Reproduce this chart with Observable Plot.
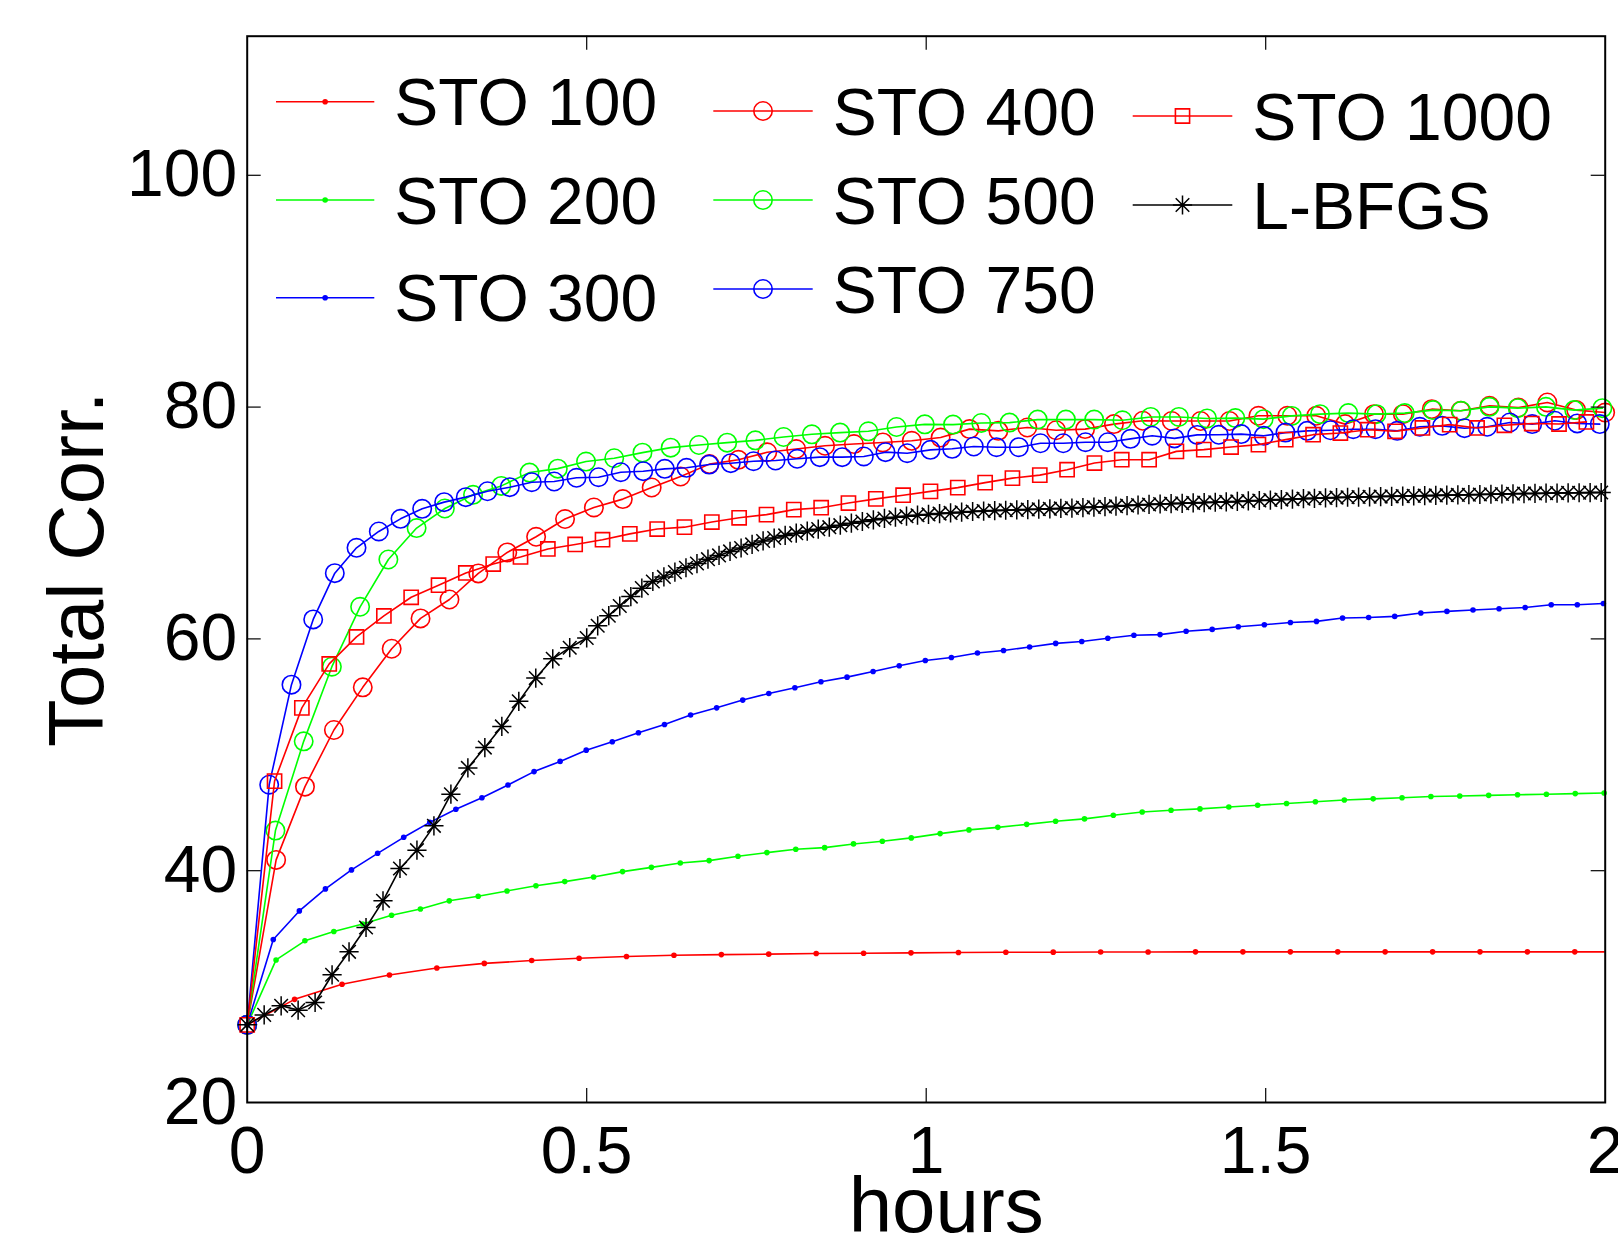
<!DOCTYPE html>
<html>
<head>
<meta charset="utf-8">
<script src="https://cdn.jsdelivr.net/npm/d3@7"></script>
<script src="https://cdn.jsdelivr.net/npm/@observablehq/plot@0.6"></script>
<style>
html, body { margin: 0; padding: 0; background: #ffffff; overflow: hidden; }
#chart { width: 1618px; height: 1242px; }
</style>
</head>
<body>
<div id="chart"></div>
<script>
// ---------------- data ----------------
const xTicks = [0, 0.5, 1, 1.5, 2];
const yTicks = [20, 40, 60, 80, 100];
const xLabel = "hours";
const yLabel = "Total Corr.";

const seriesNames = ["STO 100", "STO 200", "STO 300", "STO 400", "STO 500", "STO 750", "STO 1000", "L-BFGS"];
const seriesColors = ["#ff0000", "#00ff00", "#0000ff", "#ff0000", "#00ff00", "#0000ff", "#ff0000", "#000000"];
const seriesMarkers = ["dot", "dot", "dot", "circle", "circle", "circle", "square", "star"];

const hoursSTO100 = [0, 0.0698, 0.1397, 0.2095, 0.2793, 0.3492, 0.4190, 0.4888, 0.5586, 0.6285, 0.6983, 0.7681, 0.8380, 0.9078, 0.9776, 1.0475, 1.1173, 1.1871, 1.2569, 1.3268, 1.3966, 1.4664, 1.5363, 1.6061, 1.6759, 1.7458, 1.8156, 1.8854, 1.9552, 2.0251];
const corrSTO100 = [26.7, 28.9, 30.2, 31.0, 31.6, 32.0, 32.25, 32.45, 32.6, 32.7, 32.76, 32.8, 32.85, 32.88, 32.91, 32.94, 32.96, 32.97, 32.98, 32.99, 33.0, 33.0, 33.0, 33.0, 33.0, 33.0, 33.0, 33.0, 33.0, 33.0];

const hoursSTO200 = [0, 0.0425, 0.0850, 0.1276, 0.1701, 0.2126, 0.2551, 0.2976, 0.3402, 0.3827, 0.4252, 0.4677, 0.5102, 0.5528, 0.5953, 0.6378, 0.6803, 0.7228, 0.7654, 0.8079, 0.8504, 0.8929, 0.9354, 0.9780, 1.0205, 1.0630, 1.1055, 1.1480, 1.1906, 1.2331, 1.2756, 1.3181, 1.3606, 1.4032, 1.4457, 1.4882, 1.5307, 1.5732, 1.6158, 1.6583, 1.7008, 1.7433, 1.7858, 1.8284, 1.8709, 1.9134, 1.9559, 1.9984];
const corrSTO200 = [26.7, 32.3, 33.95, 34.75, 35.4, 36.15, 36.7, 37.4, 37.8, 38.25, 38.7, 39.06, 39.46, 39.92, 40.29, 40.67, 40.87, 41.24, 41.56, 41.85, 41.99, 42.31, 42.54, 42.83, 43.2, 43.52, 43.74, 44.0, 44.26, 44.47, 44.78, 45.07, 45.21, 45.33, 45.5, 45.65, 45.8, 45.95, 46.1, 46.2, 46.3, 46.4, 46.45, 46.5, 46.55, 46.6, 46.65, 46.7];

const hoursSTO300 = [0, 0.0384, 0.0768, 0.1152, 0.1536, 0.1921, 0.2305, 0.2689, 0.3073, 0.3457, 0.3841, 0.4225, 0.4609, 0.4993, 0.5377, 0.5762, 0.6146, 0.6530, 0.6914, 0.7298, 0.7682, 0.8066, 0.8450, 0.8834, 0.9218, 0.9603, 0.9987, 1.0371, 1.0755, 1.1139, 1.1523, 1.1907, 1.2291, 1.2675, 1.3059, 1.3444, 1.3828, 1.4212, 1.4596, 1.4980, 1.5364, 1.5748, 1.6132, 1.6516, 1.6900, 1.7285, 1.7669, 1.8053, 1.8437, 1.8821, 1.9205, 1.9589, 1.9973];
const corrSTO300 = [26.7, 34.06, 36.53, 38.43, 40.07, 41.5, 42.88, 44.17, 45.3, 46.3, 47.4, 48.55, 49.43, 50.4, 51.13, 51.9, 52.62, 53.43, 54.05, 54.72, 55.29, 55.78, 56.3, 56.7, 57.19, 57.68, 58.14, 58.4, 58.78, 59.0, 59.3, 59.61, 59.78, 60.05, 60.31, 60.37, 60.66, 60.82, 61.05, 61.22, 61.42, 61.51, 61.8, 61.85, 61.94, 62.23, 62.37, 62.49, 62.6, 62.71, 62.95, 62.95, 63.06];

const hoursSTO400 = [0, 0.0426, 0.0851, 0.1277, 0.1702, 0.2128, 0.2553, 0.2979, 0.3404, 0.3830, 0.4255, 0.4681, 0.5106, 0.5532, 0.5957, 0.6383, 0.6808, 0.7234, 0.7659, 0.8085, 0.8510, 0.8936, 0.9361, 0.9787, 1.0212, 1.0638, 1.1063, 1.1489, 1.1914, 1.2340, 1.2765, 1.3191, 1.3616, 1.4042, 1.4467, 1.4893, 1.5318, 1.5744, 1.6169, 1.6595, 1.7020, 1.7446, 1.7871, 1.8297, 1.8722, 1.9148, 1.9573, 1.9999];
const corrSTO400 = [26.7, 40.93, 47.25, 52.14, 55.82, 59.15, 61.77, 63.4, 65.65, 67.46, 68.81, 70.34, 71.34, 72.06, 73.06, 74.01, 75.08, 75.45, 76.1, 76.38, 76.66, 76.81, 76.95, 77.09, 77.37, 78.1, 77.95, 78.24, 78.0, 78.1, 78.53, 78.82, 78.8, 78.8, 78.8, 79.25, 79.25, 79.25, 78.53, 79.39, 79.39, 79.82, 79.68, 80.11, 79.96, 80.4, 79.74, 79.53];

const hoursSTO500 = [0, 0.0416, 0.0832, 0.1247, 0.1663, 0.2079, 0.2495, 0.2911, 0.3326, 0.3742, 0.4158, 0.4574, 0.4990, 0.5405, 0.5821, 0.6237, 0.6653, 0.7069, 0.7484, 0.7900, 0.8316, 0.8732, 0.9148, 0.9563, 0.9979, 1.0395, 1.0811, 1.1227, 1.1642, 1.2058, 1.2474, 1.2890, 1.3306, 1.3721, 1.4137, 1.4553, 1.4969, 1.5385, 1.5800, 1.6216, 1.6632, 1.7048, 1.7464, 1.7879, 1.8295, 1.8711, 1.9127, 1.9543, 1.9958];
const corrSTO500 = [26.7, 43.46, 51.16, 57.6, 62.77, 66.85, 69.56, 71.25, 72.43, 73.2, 74.35, 74.69, 75.3, 75.59, 76.07, 76.5, 76.73, 76.93, 77.13, 77.42, 77.65, 77.8, 77.91, 78.28, 78.51, 78.49, 78.63, 78.66, 78.92, 78.92, 78.92, 78.86, 79.15, 79.15, 79.02, 79.05, 78.96, 79.24, 79.39, 79.48, 79.39, 79.48, 79.74, 79.68, 80.02, 79.91, 80.02, 79.74, 79.91];

const hoursSTO750 = [0, 0.0324, 0.0652, 0.0972, 0.1290, 0.1610, 0.1938, 0.2258, 0.2577, 0.2901, 0.3219, 0.3539, 0.3867, 0.4191, 0.4521, 0.4850, 0.5174, 0.5502, 0.5832, 0.6150, 0.6470, 0.6804, 0.7122, 0.7457, 0.7781, 0.8100, 0.8433, 0.8763, 0.9081, 0.9401, 0.9720, 1.0063, 1.0383, 1.0701, 1.1035, 1.1364, 1.1683, 1.2018, 1.2346, 1.2675, 1.3009, 1.3328, 1.3657, 1.3991, 1.4309, 1.4639, 1.4972, 1.5291, 1.5611, 1.5954, 1.6289, 1.6617, 1.6937, 1.7270, 1.7599, 1.7928, 1.8262, 1.8595, 1.8925, 1.9258, 1.9588, 1.9920];
const corrSTO750 = [26.7, 47.42, 56.05, 61.68, 65.67, 67.86, 69.27, 70.36, 71.22, 71.8, 72.23, 72.74, 73.09, 73.52, 73.58, 73.9, 73.95, 74.38, 74.47, 74.67, 74.76, 75.04, 75.16, 75.33, 75.39, 75.54, 75.68, 75.68, 75.74, 76.11, 76.02, 76.31, 76.4, 76.6, 76.54, 76.54, 76.88, 76.88, 76.97, 76.97, 77.26, 77.53, 77.3, 77.6, 77.61, 77.67, 77.52, 77.8, 77.95, 78.0, 78.09, 78.09, 77.95, 78.3, 78.38, 78.18, 78.3, 78.67, 78.53, 78.82, 78.59, 78.53];

const hoursSTO1000 = [0, 0.0403, 0.0805, 0.1208, 0.1610, 0.2013, 0.2415, 0.2818, 0.3220, 0.3623, 0.4025, 0.4428, 0.4830, 0.5233, 0.5635, 0.6038, 0.6440, 0.6843, 0.7245, 0.7648, 0.8050, 0.8453, 0.8855, 0.9258, 0.9660, 1.0063, 1.0465, 1.0868, 1.1270, 1.1673, 1.2075, 1.2478, 1.2880, 1.3283, 1.3685, 1.4088, 1.4490, 1.4893, 1.5295, 1.5698, 1.6100, 1.6503, 1.6905, 1.7308, 1.7710, 1.8113, 1.8515, 1.8918, 1.9320, 1.9723];
const corrSTO1000 = [26.7, 47.73, 54.05, 57.84, 60.17, 61.98, 63.59, 64.63, 65.69, 66.46, 67.07, 67.76, 68.15, 68.56, 69.06, 69.48, 69.64, 70.08, 70.45, 70.72, 71.15, 71.32, 71.72, 72.08, 72.4, 72.73, 73.05, 73.48, 73.87, 74.13, 74.6, 75.17, 75.46, 75.46, 76.18, 76.33, 76.55, 76.76, 77.19, 77.62, 77.76, 78.05, 77.91, 78.2, 78.49, 78.2, 78.43, 78.58, 78.54, 78.72];

const hoursLBFGS = [0, 0.025, 0.05, 0.075, 0.1, 0.125, 0.15, 0.175, 0.2, 0.225, 0.25, 0.275, 0.3, 0.325, 0.35, 0.375, 0.4, 0.425, 0.45, 0.475, 0.5,
  0.5162, 0.5325, 0.5487, 0.5650, 0.5812, 0.5974, 0.6137, 0.6299, 0.6462, 0.6624, 0.6786, 0.6949, 0.7111, 0.7274, 0.7436, 0.7598, 0.7761, 0.7923, 0.8086, 0.8248,
  0.8410, 0.8573, 0.8735, 0.8898, 0.9060, 0.9222, 0.9385, 0.9547, 0.9710, 0.9872, 1.0034, 1.0197, 1.0359, 1.0522, 1.0684, 1.0846, 1.1009, 1.1171, 1.1334, 1.1496,
  1.1658, 1.1821, 1.1983, 1.2146, 1.2308, 1.2470, 1.2633, 1.2795, 1.2958, 1.3120, 1.3282, 1.3445, 1.3607, 1.3770, 1.3932, 1.4094, 1.4257, 1.4419, 1.4582, 1.4744,
  1.4906, 1.5069, 1.5231, 1.5394, 1.5556, 1.5718, 1.5881, 1.6043, 1.6206, 1.6368, 1.6530, 1.6693, 1.6855, 1.7018, 1.7180, 1.7342, 1.7505, 1.7667, 1.7830, 1.7992,
  1.8154, 1.8317, 1.8479, 1.8642, 1.8804, 1.8966, 1.9129, 1.9291, 1.9454, 1.9616, 1.9778, 1.9941];
const corrLBFGS = [26.7, 27.56, 28.34, 27.97, 28.63, 31.02, 33.0, 35.1, 37.4, 40.19, 41.77, 43.87, 46.6, 48.87, 50.62, 52.45, 54.61, 56.62, 58.28, 59.24, 60.08,
  61.13, 62.0, 62.84, 63.65, 64.38, 64.95, 65.35, 65.76, 66.14, 66.5, 66.88, 67.2, 67.55, 67.84, 68.15, 68.45, 68.7, 68.93, 69.12, 69.3,
  69.47, 69.64, 69.81, 69.98, 70.13, 70.27, 70.39, 70.5, 70.59, 70.67, 70.74, 70.81, 70.87, 70.93, 70.99, 71.03, 71.07, 71.1, 71.13, 71.16,
  71.19, 71.22, 71.26, 71.29, 71.33, 71.37, 71.41, 71.45, 71.5, 71.55, 71.6, 71.64, 71.67, 71.7, 71.73, 71.76, 71.79, 71.82, 71.86, 71.9,
  71.94, 71.98, 72.02, 72.06, 72.1, 72.13, 72.16, 72.19, 72.22, 72.24, 72.26, 72.28, 72.3, 72.32, 72.34, 72.36, 72.38, 72.4, 72.42, 72.44,
  72.46, 72.48, 72.5, 72.52, 72.54, 72.55, 72.57, 72.58, 72.6, 72.61, 72.62, 72.63];

const seriesHours = [hoursSTO100, hoursSTO200, hoursSTO300, hoursSTO400, hoursSTO500, hoursSTO750, hoursSTO1000, hoursLBFGS];
const seriesCorr = [corrSTO100, corrSTO200, corrSTO300, corrSTO400, corrSTO500, corrSTO750, corrSTO1000, corrLBFGS];

// ---------------- layout / style ----------------
const FONT = "'Liberation Sans', Arial, Helvetica, sans-serif";
const W = 1618, H = 1242;
const M = { left: 246.7, right: 13.3, top: 35.7, bottom: 140 };
const plotW = W - M.left - M.right;
const plotH = H - M.top - M.bottom;
const TICK_LEN = 14;
const LINE_W = 1.6;

// 8-armed asterisk (plus + cross), like the MATLAB '*' marker
const asterisk8 = {
  draw(ctx, size) {
    const r = Math.sqrt(size / Math.PI);
    const d = r * Math.SQRT1_2;
    ctx.moveTo(0, -r); ctx.lineTo(0, r);
    ctx.moveTo(-r, 0); ctx.lineTo(r, 0);
    ctx.moveTo(-d, -d); ctx.lineTo(d, d);
    ctx.moveTo(-d, d); ctx.lineTo(d, -d);
  }
};
const markerStyle = {
  dot:    { symbol: "circle", r: 2.8, filled: true, sw: 0 },
  circle: { symbol: "circle", r: 9.2, filled: false, sw: 1.6 },
  square: { symbol: "square", r: 8.0, filled: false, sw: 1.6 },
  star:   { symbol: asterisk8, r: 9.6, filled: false, sw: 1.5 }
};

// table built from the arrays
const rows = [];
seriesNames.forEach((name, i) => {
  seriesHours[i].forEach((h, j) => rows.push({ series: name, idx: i, hours: h, corr: seriesCorr[i][j] }));
});

const marks = [];
seriesNames.forEach((name, i) => {
  const data = rows.filter(d => d.idx === i);
  const ms = markerStyle[seriesMarkers[i]];
  marks.push(Plot.line(data, { x: "hours", y: "corr", stroke: seriesColors[i], strokeWidth: LINE_W, clip: true }));
  marks.push(Plot.dot(data.filter(d => d.hours <= 2), {
    x: "hours", y: "corr", r: ms.r, symbol: ms.symbol,
    fill: ms.filled ? seriesColors[i] : "none",
    stroke: ms.filled ? "none" : seriesColors[i],
    strokeWidth: ms.sw
  }));
});

const innerX = xTicks.filter(t => t > xTicks[0] && t < xTicks[xTicks.length - 1]);
const innerY = yTicks.filter(t => t > yTicks[0]);

const plot = Plot.plot({
  width: W, height: H,
  marginLeft: M.left, marginRight: M.right, marginTop: M.top, marginBottom: M.bottom,
  style: { fontFamily: FONT, background: "#ffffff", color: "#000000", overflow: "visible" },
  x: { domain: [0, 2] },
  y: { domain: [20, 112] },
  marks: [
    ...marks,
    Plot.tickX(innerX, { x: d => d, insetTop: plotH - TICK_LEN, stroke: "#000", strokeWidth: 1.2 }),
    Plot.tickX(innerX, { x: d => d, insetBottom: plotH - TICK_LEN, stroke: "#000", strokeWidth: 1.2 }),
    Plot.tickY(innerY, { y: d => d, insetRight: plotW - TICK_LEN, stroke: "#000", strokeWidth: 1.2 }),
    Plot.tickY(innerY, { y: d => d, insetLeft: plotW - TICK_LEN, stroke: "#000", strokeWidth: 1.2 }),
    Plot.frame({ stroke: "#000", strokeWidth: 2 }),
    Plot.axisX(xTicks, { tickSize: 0, tickPadding: 24, fontSize: 66, label: null, tickFormat: d => String(d) }),
    Plot.axisY(yTicks, { tickSize: 0, tickPadding: 10, fontSize: 66, label: null, tickFormat: d => String(d) }),
    Plot.text([xLabel], { text: d => d, frameAnchor: "bottom", dx: 20, dy: 74, lineAnchor: "top", textAnchor: "middle", fontSize: 78, fill: "#000" }),
    Plot.text([yLabel], { text: d => d, frameAnchor: "left", dx: -200, rotate: -90, lineAnchor: "top", textAnchor: "middle", fontSize: 78, fill: "#000" })
  ]
});

// ---------------- legend (inside the axes, 3 columns) ----------------
const legendCols = [
  { lineX0: 276, lineX1: 374.3, textX: 394.3, rowsY: [101.7, 200, 297.7] },
  { lineX0: 713.3, lineX1: 812.7, textX: 832.7, rowsY: [111, 200, 289] },
  { lineX0: 1132.7, lineX1: 1232.3, textX: 1252.3, rowsY: [116, 205] }
];
const LEGEND_FS = 66;
const svg = d3.select(plot);
const lg = svg.append("g")
  .attr("font-family", FONT)
  .attr("font-size", LEGEND_FS)
  .attr("text-anchor", "start");
let k = 0;
legendCols.forEach(col => {
  col.rowsY.forEach(y => {
    const i = k++;
    const color = seriesColors[i];
    const ms = markerStyle[seriesMarkers[i]];
    const cx = (col.lineX0 + col.lineX1) / 2;
    lg.append("line").attr("x1", col.lineX0).attr("x2", col.lineX1).attr("y1", y).attr("y2", y)
      .attr("stroke", color).attr("stroke-width", LINE_W);
    const symType = typeof ms.symbol === "string" ? (ms.symbol === "square" ? d3.symbolSquare : d3.symbolCircle) : ms.symbol;
    lg.append("path").attr("transform", `translate(${cx},${y})`)
      .attr("d", d3.symbol(symType, ms.r * ms.r * Math.PI)())
      .attr("fill", ms.filled ? color : "none")
      .attr("stroke", ms.filled ? "none" : color)
      .attr("stroke-width", ms.sw);
    lg.append("text").attr("x", col.textX).attr("y", y + 0.358 * LEGEND_FS)
      .attr("text-anchor", "start")
      .attr("fill", "#000").text(seriesNames[i]);
  });
});

document.getElementById("chart").appendChild(plot);
</script>
</body>
</html>
